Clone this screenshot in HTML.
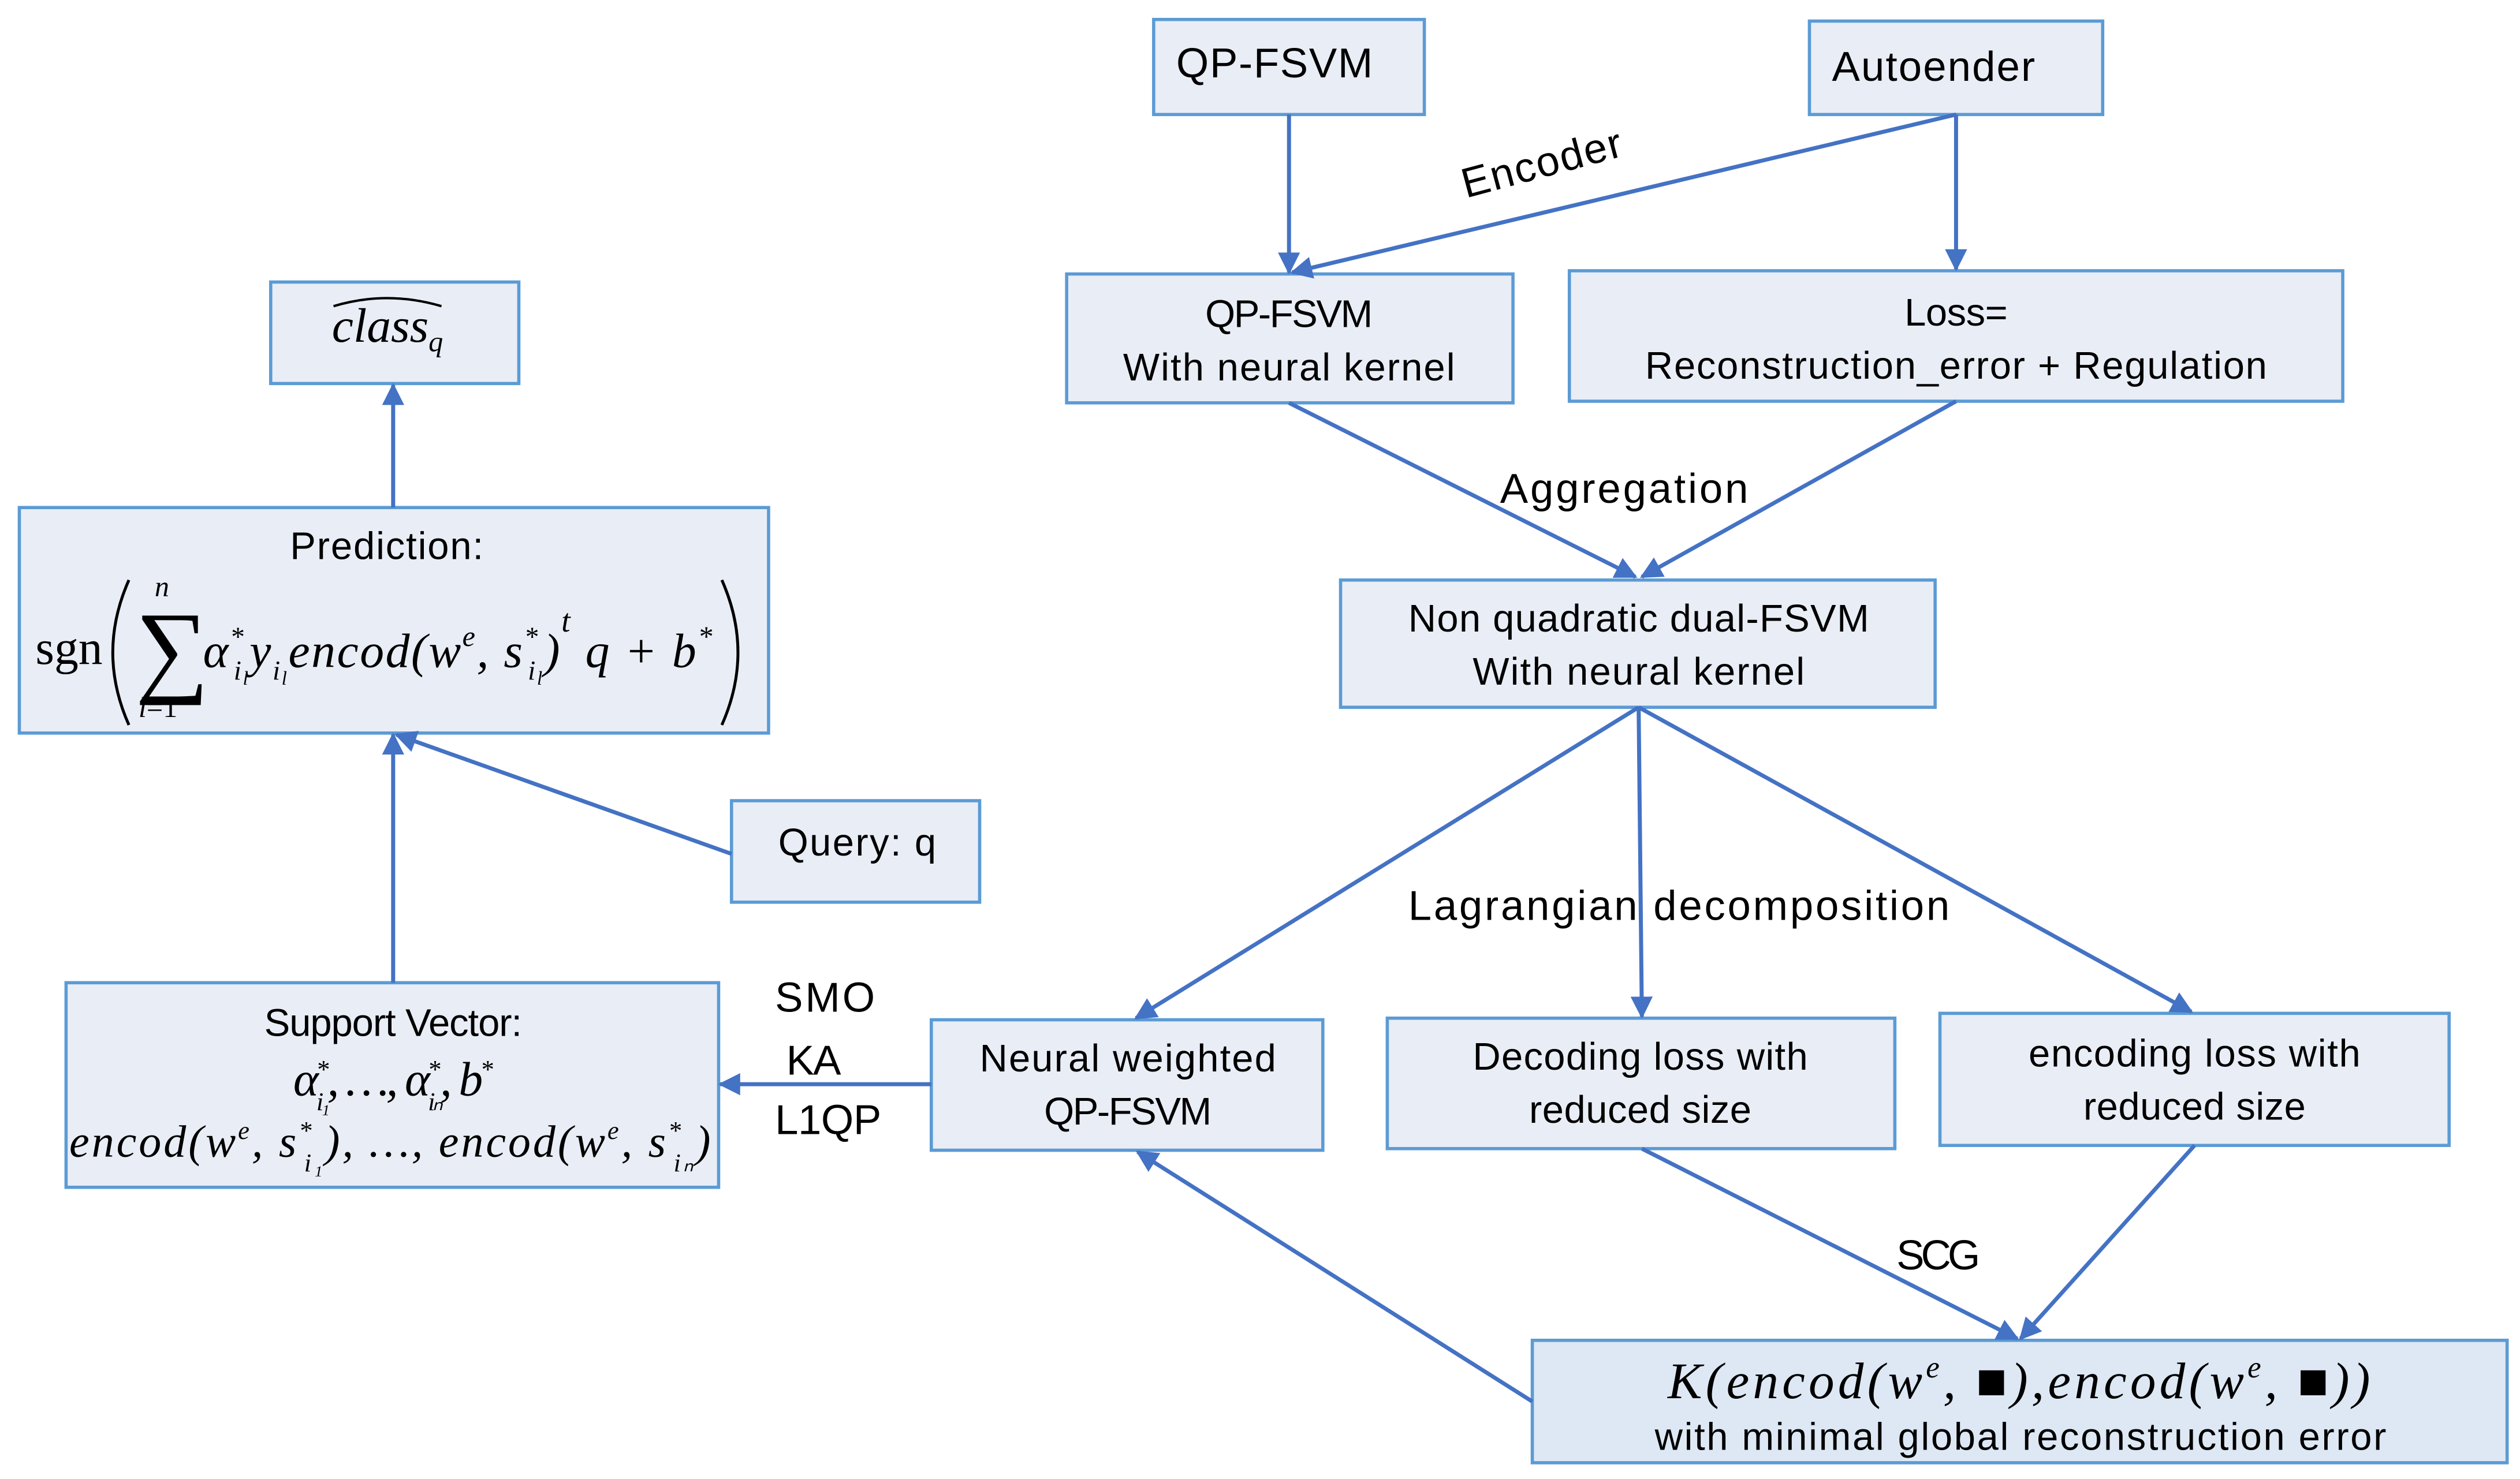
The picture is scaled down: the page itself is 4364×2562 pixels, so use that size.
<!DOCTYPE html>
<html><head><meta charset="utf-8"><style>
html,body{margin:0;padding:0;background:#fff;}
svg{display:block;}
text{font-family:"Liberation Sans",sans-serif;fill:#000;}
.m{font-family:"Liberation Serif",serif;font-style:italic;}
.s{font-family:"Liberation Serif",serif;}
</style></head><body>
<svg width="4364" height="2562" viewBox="0 0 1564 918" xmlns="http://www.w3.org/2000/svg">
<defs><marker id="a" viewBox="0 0 10 10" refX="9" refY="5" markerWidth="5.5" markerHeight="5.5" orient="auto"><path d="M0,0 L10,5 L0,10 z" fill="#4472c4"/></marker></defs>
<g fill="#e9edf6" stroke="#5b9bd5" stroke-width="2">
<rect x="716" y="12" width="168" height="59"/>
<rect x="1123" y="13" width="182" height="58"/>
<rect x="662" y="170" width="277" height="80"/>
<rect x="974" y="168" width="480" height="81"/>
<rect x="832" y="360" width="369" height="79"/>
<rect x="578" y="633" width="243" height="81"/>
<rect x="861" y="632" width="315" height="81"/>
<rect x="1204" y="629" width="316" height="82"/>
<rect x="951" y="832" width="605" height="76" fill="#dde8f4"/>
<rect x="168" y="175" width="154" height="63"/>
<rect x="12" y="315" width="465" height="140"/>
<rect x="454" y="497" width="154" height="63"/>
<rect x="41" y="610" width="405" height="127"/>
</g>
<g stroke="#4472c4" stroke-width="2.5" fill="none" marker-end="url(#a)">
<line x1="800" y1="71" x2="800" y2="169"/>
<line x1="1214" y1="71" x2="1214" y2="167"/>
<line x1="1214" y1="71" x2="802" y2="169"/>
<line x1="800" y1="250" x2="1015" y2="358"/>
<line x1="1214" y1="249" x2="1019" y2="358"/>
<line x1="1017" y1="439" x2="705" y2="632"/>
<line x1="1017" y1="439" x2="1019" y2="631"/>
<line x1="1017" y1="439" x2="1360" y2="628"/>
<line x1="1019" y1="713" x2="1252" y2="831"/>
<line x1="1362" y1="711" x2="1254" y2="831"/>
<line x1="951" y1="870" x2="706" y2="715"/>
<line x1="578" y1="673" x2="447" y2="673"/>
<line x1="244" y1="610" x2="244" y2="456"/>
<line x1="454" y1="530" x2="246" y2="456"/>
<line x1="244" y1="315" x2="244" y2="239"/>
</g>
<g font-size="24">
<text x="730" y="48" font-size="26" textLength="122">QP-FSVM</text>
<text x="1137" y="50" font-size="26" textLength="126">Autoender</text>
<text x="800" y="203" text-anchor="middle" textLength="104">QP-FSVM</text>
<text x="800" y="236" text-anchor="middle" textLength="206">With neural kernel</text>
<text x="1214" y="202" text-anchor="middle" textLength="64">Loss=</text>
<text x="1214" y="235" text-anchor="middle" textLength="386">Reconstruction_error + Regulation</text>
<text x="1017" y="392" text-anchor="middle" textLength="286">Non quadratic dual-FSVM</text>
<text x="1017" y="425" text-anchor="middle" textLength="206">With neural kernel</text>
<text x="700" y="665" text-anchor="middle" textLength="184">Neural weighted</text>
<text x="700" y="698" text-anchor="middle" textLength="104">QP-FSVM</text>
<text x="1018" y="664" text-anchor="middle" textLength="208">Decoding loss with</text>
<text x="1018" y="697" text-anchor="middle" textLength="138">reduced size</text>
<text x="1362" y="662" text-anchor="middle" textLength="206">encoding loss with</text>
<text x="1362" y="695" text-anchor="middle" textLength="138">reduced size</text>
<text x="1254" y="900" text-anchor="middle" textLength="454">with minimal global reconstruction error</text>
<text class="m" x="1035" y="868" font-size="32" textLength="436">K(encod(w<tspan font-size="19" dy="-13">e</tspan><tspan dy="13">, ■),encod(w</tspan><tspan font-size="19" dy="-13">e</tspan><tspan dy="13">, ■))</tspan></text>
<text x="532" y="531" text-anchor="middle" textLength="98">Query: q</text>
<text x="240" y="347" text-anchor="middle" textLength="120">Prediction:</text>
<text class="s" x="22" y="412" font-size="30">sgn</text>
<path d="M80,360 Q60,405 80,450" stroke="#000" stroke-width="1.8" fill="none"/>
<path d="M448,360 Q468,405 448,450" stroke="#000" stroke-width="1.8" fill="none"/>
<text class="s" x="84" y="424" font-size="64">∑</text>
<text class="m" x="96" y="370" font-size="18">n</text>
<text class="s" x="86" y="445" font-size="18"><tspan class="m">l</tspan>=1</text>
<text class="m" x="126" y="414" font-size="30" textLength="316">α<tspan font-size="17" dy="-13">*</tspan><tspan font-size="17" dx="-7" dy="21">i</tspan><tspan font-size="12" dy="3">l</tspan><tspan font-size="30" dy="-11">y</tspan><tspan font-size="17" dy="8">i</tspan><tspan font-size="12" dy="3">l</tspan><tspan font-size="30" dy="-11">encod(w</tspan><tspan font-size="18" dy="-13">e</tspan><tspan font-size="30" dy="13">, s</tspan><tspan font-size="17" dy="-13">*</tspan><tspan font-size="17" dx="-7" dy="21">i</tspan><tspan font-size="12" dy="3">l</tspan><tspan font-size="30" dy="-11">)</tspan><tspan font-size="20" dy="-22">t</tspan><tspan font-size="30" dy="22"> q + b</tspan><tspan font-size="18" dy="-13">*</tspan></text>
<text class="m" x="206" y="212" font-size="30">class<tspan font-size="18" dy="6">q</tspan></text>
<path d="M207,190 Q240,180 274,190" stroke="#000" stroke-width="1.5" fill="none"/>
<text x="244" y="643" text-anchor="middle" textLength="160">Support Vector:</text>
<text class="m" x="244" y="680" text-anchor="middle" font-size="30" textLength="124">α<tspan font-size="16" dy="-11">*</tspan><tspan font-size="16" dx="-6" dy="20">i₁</tspan><tspan dy="-9">, …, α</tspan><tspan font-size="16" dy="-11">*</tspan><tspan font-size="16" dx="-6" dy="20">iₙ</tspan><tspan dy="-9">, b</tspan><tspan font-size="16" dy="-11">*</tspan></text>
<text class="m" x="43" y="718" font-size="28" textLength="398">encod(w<tspan font-size="16" dy="-11">e</tspan><tspan dy="11">, s</tspan><tspan font-size="16" dy="-11">*</tspan><tspan font-size="16" dx="-6" dy="20">i₁</tspan><tspan dy="-9">), …, encod(w</tspan><tspan font-size="16" dy="-11">e</tspan><tspan dy="11">, s</tspan><tspan font-size="16" dy="-11">*</tspan><tspan font-size="16" dx="-6" dy="20">iₙ</tspan><tspan dy="-9">)</tspan></text>
<text x="957" y="110" font-size="26" textLength="102" transform="rotate(-15 957 102)" text-anchor="middle">Encoder</text>
<text x="931" y="312" font-size="26" textLength="154">Aggregation</text>
<text x="874" y="571" font-size="26" textLength="336">Lagrangian decomposition</text>
<text x="512" y="628" font-size="26" text-anchor="middle" textLength="62">SMO</text>
<text x="505" y="667" font-size="26" text-anchor="middle" textLength="34">KA</text>
<text x="514" y="704" font-size="26" text-anchor="middle" textLength="66">L1QP</text>
<text x="1203" y="788" font-size="26" text-anchor="middle" textLength="52">SCG</text>
</g>
</svg>
</body></html>
